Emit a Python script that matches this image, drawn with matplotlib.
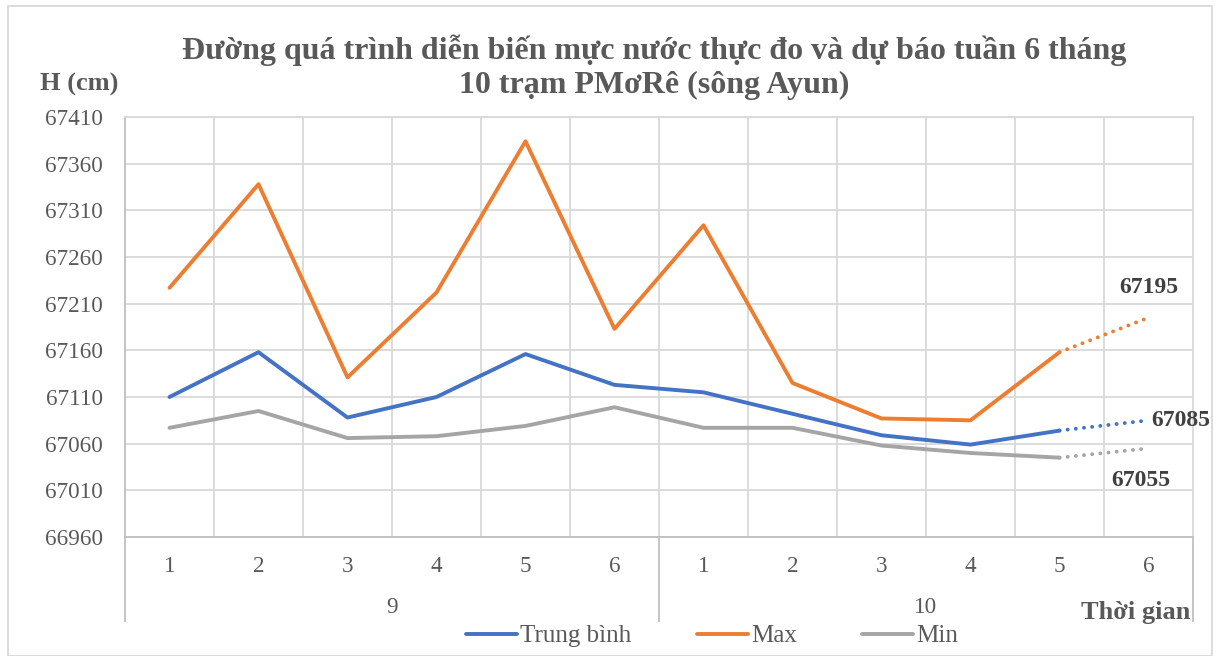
import matplotlib
matplotlib.use('Agg')
import matplotlib.pyplot as plt
from matplotlib.patches import Rectangle
from matplotlib.lines import Line2D
import matplotlib.transforms as mtransforms

weeks = ['1', '2', '3', '4', '5', '6', '1', '2', '3', '4', '5', '6']
months = ['9', '10']
trung_binh = [67110, 67158, 67088, 67110, 67156, 67123, 67115, 67092, 67069, 67059, 67074, 67085]
max_vals = [67227, 67338, 67131, 67222, 67384, 67183, 67294, 67125, 67087, 67085, 67158, 67195]
min_vals = [67077, 67095, 67066, 67068, 67079, 67099, 67077, 67077, 67058, 67050, 67045, 67055]
n_observed = 11  # last point is the forecast

plt.rcParams['font.family'] = ['Liberation Serif', 'DejaVu Serif']
text_col = '#595959'
grid_col = '#d9d9d9'

fig = plt.figure(figsize=(12.19, 6.56), dpi=100)
ax = fig.add_axes([125 / 1219, 1 - 537 / 656, (1193 - 125) / 1219, (537 - 117) / 656])

x = list(range(len(weeks)))
series = [(trung_binh, '#4472C4', 'Trung bình'),
          (max_vals, '#ED7D31', 'Max'),
          (min_vals, '#A5A5A5', 'Min')]
handles = []
for vals, col, name in series:
    ax.plot(x[:n_observed], vals[:n_observed], color=col, lw=2.8, solid_capstyle='round',
            solid_joinstyle='round', zorder=3)
    ax.plot(x[n_observed - 1:], vals[n_observed - 1:], color=col, lw=2.8,
            linestyle=(0, (0.01, 2.1)), dash_capstyle='round', zorder=3)
    handles.append(Line2D([], [], color=col, lw=2.8, solid_capstyle='round', label=name))

ax.set_xlim(-0.5, len(weeks) - 0.5)
ax.set_ylim(66960, 67410)
ax.set_yticks(range(66960, 67411, 50))
ax.set_xticks(x)
ax.set_xticklabels(weeks)
ax.set_xticks([i + 0.5 for i in range(len(weeks) - 1)], minor=True)
ax.grid(which='minor', axis='x', color=grid_col, lw=1.3)
ax.grid(which='major', axis='y', color=grid_col, lw=1.3)
ax.set_axisbelow(True)
ax.tick_params(axis='both', which='both', length=0, colors=text_col, labelsize=16.7)
ax.tick_params(axis='x', pad=14)
ax.tick_params(axis='y', pad=16)
for s in ['top', 'right']:
    ax.spines[s].set_color(grid_col)
    ax.spines[s].set_linewidth(1.3)
for s in ['left', 'bottom']:
    ax.spines[s].set_color('#bfbfbf')
    ax.spines[s].set_linewidth(1.3)

# multi-level category axis: separators and month labels
trans = mtransforms.blended_transform_factory(ax.transData, ax.transAxes)
for xs in [-0.5, 5.5, 11.5]:
    ax.plot([xs, xs], [0, -0.2], color='#bfbfbf', lw=1.3, transform=trans, clip_on=False)
for i, m in enumerate(months):
    ax.text(2.5 + 6 * i, -0.167, m, transform=trans, ha='center', va='center',
            fontsize=16.7, color=text_col)

# labels for the forecast values
ax.annotate(str(max_vals[-1]), (x[-1], max_vals[-1]), xytext=(0, 30), textcoords='offset pixels',
            ha='center', va='center', fontsize=17, fontweight='bold', color='#404040')
ax.annotate(str(trung_binh[-1]), (x[-1], trung_binh[-1]), xytext=(32, 0), textcoords='offset pixels',
            ha='center', va='center', fontsize=17, fontweight='bold', color='#404040')
ax.annotate(str(min_vals[-1]), (x[-1], min_vals[-1]), xytext=(-8, -32), textcoords='offset pixels',
            ha='center', va='center', fontsize=17, fontweight='bold', color='#404040')

fig.text(654 / 1219, 1 - 67 / 656,
         'Đường quá trình diễn biến mực nước thực đo và dự báo tuần 6 tháng\n10 trạm PMơRê (sông Ayun)',
         ha='center', va='center', fontsize=23, fontweight='bold', color=text_col, linespacing=1.2)
fig.text(79 / 1219, 1 - 84 / 656, 'H (cm)', ha='center', va='center', fontsize=19,
         fontweight='bold', color=text_col)
fig.text(1136 / 1219, 1 - 613 / 656, 'Thời gian', ha='center', va='center', fontsize=19,
         fontweight='bold', color=text_col)

leg = fig.legend(handles=handles, loc='center', bbox_to_anchor=(712 / 1219, 1 - 636 / 656), ncol=3,
                 frameon=False, fontsize=18, handlelength=2.05, handletextpad=0.12, columnspacing=2.6)
for t in leg.get_texts():
    t.set_color(text_col)

fig.patches.append(Rectangle((8 / 1219, 0), 1204 / 1219, 1 - 6 / 656, transform=fig.transFigure,
                             fill=False, edgecolor=grid_col, lw=1.3))

fig.savefig('out.png', dpi=100)
